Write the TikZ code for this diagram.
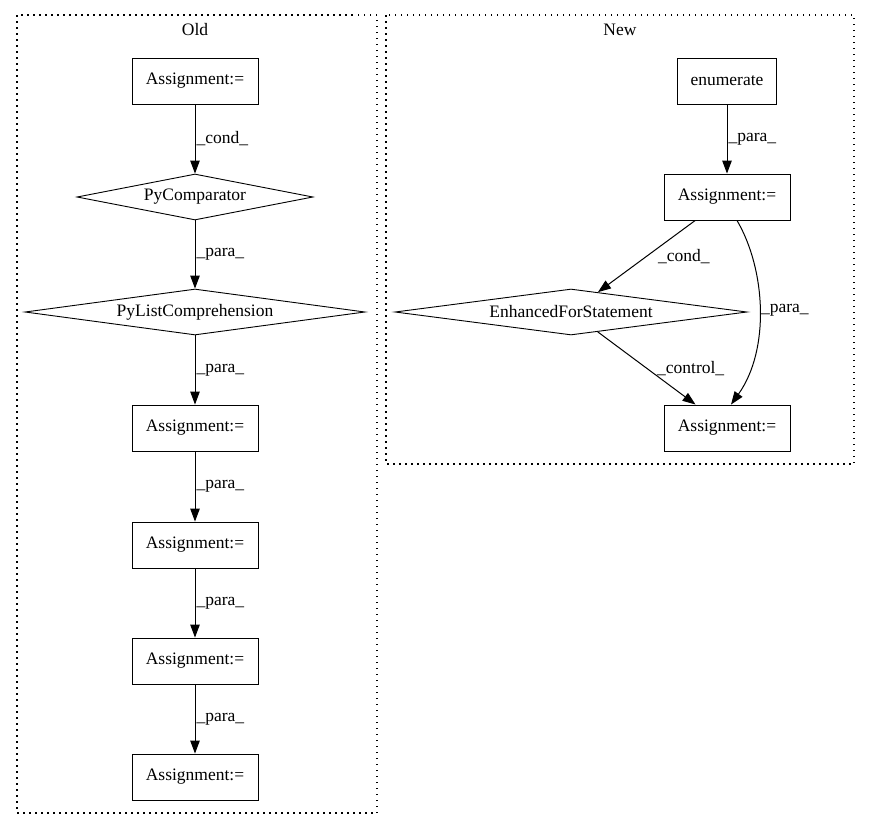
\documentclass[tikz,border=0pt]{standalone}
\usepackage{fontspec}
\setmainfont{Liberation Serif}
\usetikzlibrary{shapes.geometric,arrows.meta}
\tikzset{
    every node/.style={font=\fontsize{17.5}{20}\selectfont},
    stmt/.style={draw, line width=0.9pt, minimum width=126pt, minimum height=46pt, inner sep=0pt},
    cmp/.style={draw, diamond, aspect=7, line width=0.9pt, inner sep=0pt, minimum height=46pt},
    edge/.style={line width=1pt, -{Triangle[length=13pt,width=9.5pt]}},
    lbl/.style={inner sep=1pt, anchor=west},
    cluster/.style={line width=1.3pt, dash pattern=on 1.5pt off 4.5pt}
}
\begin{document}
\begin{tikzpicture}[x=1pt, y=-1pt]
    \useasboundingbox (0,0) rectangle (871,828);
    \draw [cluster] (17,15) rectangle (377,813);
    \draw [cluster] (386,15) rectangle (854,464);
    \node (old) at (195,30) {Old};
    \node (new) at (620,30) {New};

    \node [stmt] (oa1) at (195,81) {Assignment:=};
    \node [cmp, minimum width=236pt] (pcmp) at (195,197) {PyComparator};
    \node [cmp, minimum width=340pt] (plc) at (195,312) {PyListComprehension};
    \node [stmt] (oa2) at (195,428) {Assignment:=};
    \node [stmt] (oa3) at (195,545) {Assignment:=};
    \node [stmt] (oa4) at (195,661) {Assignment:=};
    \node [stmt] (oa5) at (195,777) {Assignment:=};

    \draw [edge] (oa1) -- node [lbl] {\_cond\_} (pcmp);
    \draw [edge] (pcmp) -- node [lbl] {\_para\_} (plc);
    \draw [edge] (plc) -- node [lbl] {\_para\_} (oa2);
    \draw [edge] (oa2) -- node [lbl] {\_para\_} (oa3);
    \draw [edge] (oa3) -- node [lbl] {\_para\_} (oa4);
    \draw [edge] (oa4) -- node [lbl] {\_para\_} (oa5);

    \node [stmt, minimum width=99pt] (enum) at (727,81) {enumerate};
    \node [stmt] (na1) at (727,197) {Assignment:=};
    \node [cmp, minimum width=352pt] (efs) at (571,312) {EnhancedForStatement};
    \node [stmt] (na2) at (727,428) {Assignment:=};

    \draw [edge] (enum) -- node [lbl] {\_para\_} (na1);
    \draw [edge] (na1) -- node [lbl, xshift=10pt] {\_cond\_} (efs);
    \draw [edge] (efs) -- node [lbl, xshift=9pt] {\_control\_} (na2);
    \draw [edge] ([xshift=10pt]na1.south) .. controls (766,270) and (770,350) .. node [lbl] {\_para\_} ([xshift=4pt]na2.north);
\end{tikzpicture}
\end{document}
